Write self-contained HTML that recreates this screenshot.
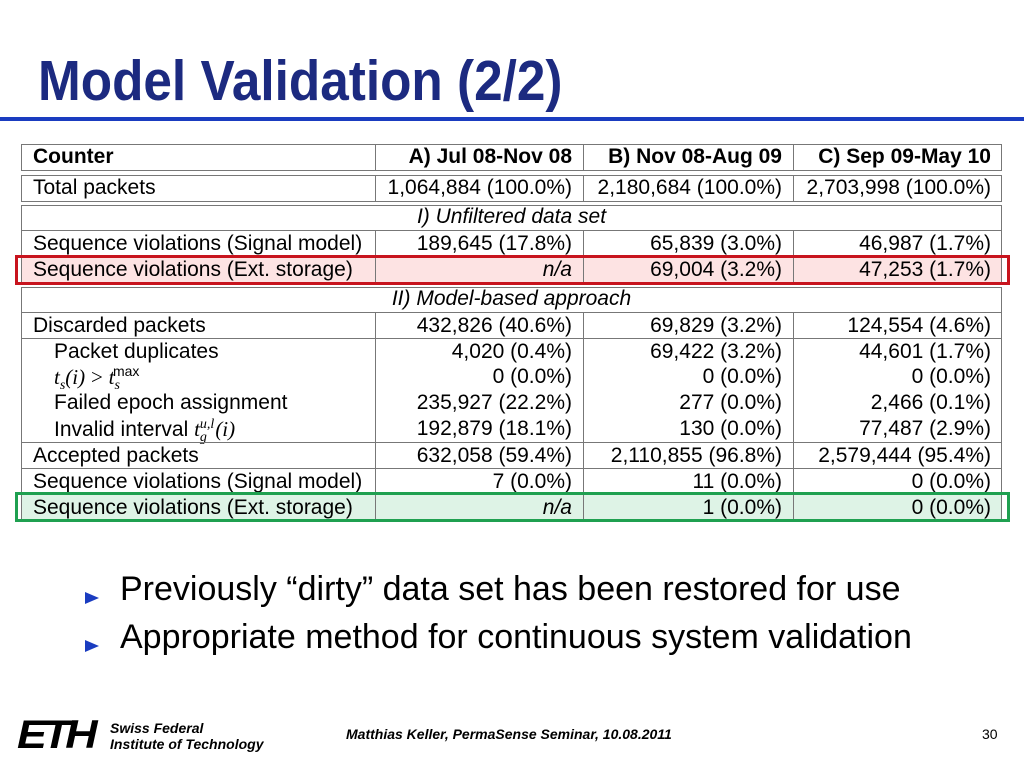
<!DOCTYPE html>
<html><head><meta charset="utf-8"><style>
body{margin:0;width:1024px;height:768px;background:#fff;position:relative;overflow:hidden;font-family:"Liberation Sans",sans-serif;color:#000}
.title{position:absolute;left:38px;top:48px;font-size:57px;font-weight:bold;color:#1c2a80;transform:scaleX(0.9);transform-origin:left;white-space:nowrap}
.rule{position:absolute;left:0;top:117px;width:1024px;height:4px;background:#1a3cc0}
.box{position:absolute;left:21px;width:981px;border:1px solid #777;box-sizing:border-box}
.row{position:absolute;left:21px;width:981px;height:26px;font-size:21px;line-height:26px}
.row div{position:absolute;top:0;height:100%;box-sizing:border-box;white-space:nowrap}
.c0{left:0;width:354px;padding-left:12px}
.c1{left:354px;width:208px;text-align:right;padding-right:11px;border-left:1px solid #777}
.c2{left:562px;width:210px;text-align:right;padding-right:11px;border-left:1px solid #777}
.c3{left:772px;width:209px;text-align:right;padding-right:11px;border-left:1px solid #777}
.sec{left:0;width:981px;text-align:center;font-style:italic}
.ind{padding-left:33px!important}
.b{font-weight:bold}
.m{font-family:"Liberation Serif",serif;font-style:italic}
.sm{font-size:14px;position:relative}
.hlr{position:absolute;left:15px;width:995px;height:30px;box-sizing:border-box;border:3px solid}
.bul{position:absolute;left:120px;font-size:34px;white-space:nowrap}
.tri{position:absolute;left:85px;width:0;height:0;border-top:6px solid transparent;border-bottom:6px solid transparent;border-left:14px solid #1a3cc0}
</style></head><body>
<div class="title">Model Validation (2/2)</div>
<div class="rule"></div>

<div style="position:absolute;left:21px;top:256px;width:981px;height:26px;background:#fde3e3"></div>
<div style="position:absolute;left:21px;top:494px;width:981px;height:26px;background:#def3e6"></div>

<div class="box" style="top:144px;height:27px"></div>
<div class="row b" style="top:144px"><div class="c0">Counter</div><div class="c1">A) Jul 08-Nov 08</div><div class="c2">B) Nov 08-Aug 09</div><div class="c3">C) Sep 09-May 10</div></div>

<div class="box" style="top:175px;height:27px"></div>
<div class="row" style="top:175px"><div class="c0">Total packets</div><div class="c1">1,064,884 (100.0%)</div><div class="c2">2,180,684 (100.0%)</div><div class="c3">2,703,998 (100.0%)</div></div>

<div class="box" style="top:205px;height:78px"></div>
<div class="row" style="top:204px"><div class="sec">I) Unfiltered data set</div></div>
<div class="row" style="top:230px;border-top:1px solid #777"><div class="c0">Sequence violations (Signal model)</div><div class="c1">189,645 (17.8%)</div><div class="c2">65,839 (3.0%)</div><div class="c3">46,987 (1.7%)</div></div>
<div class="row" style="top:256px;border-top:1px solid #777"><div class="c0">Sequence violations (Ext. storage)</div><div class="c1"><i>n/a</i></div><div class="c2">69,004 (3.2%)</div><div class="c3">47,253 (1.7%)</div></div>

<div class="box" style="top:287px;height:234px"></div>
<div class="row" style="top:286px"><div class="sec">II) Model-based approach</div></div>
<div class="row" style="top:312px;border-top:1px solid #777"><div class="c0">Discarded packets</div><div class="c1">432,826 (40.6%)</div><div class="c2">69,829 (3.2%)</div><div class="c3">124,554 (4.6%)</div></div>
<div class="row" style="top:338px;height:26px;border-top:1px solid #777"><div class="c0 ind">Packet duplicates</div><div class="c1">4,020 (0.4%)</div><div class="c2">69,422 (3.2%)</div><div class="c3">44,601 (1.7%)</div></div>
<div class="row" style="top:364px"><div class="c0 ind"><span class="m">t</span><span class="m sm" style="top:5px">s</span><span class="m">(i)</span> <span style="font-family:'Liberation Serif',serif">&gt;</span> <span class="m">t</span><span class="m sm" style="top:5px">s</span><span class="sm" style="top:-8px;left:-7px">max</span></div><div class="c1">0 (0.0%)</div><div class="c2">0 (0.0%)</div><div class="c3">0 (0.0%)</div></div>
<div class="row" style="top:390px"><div class="c0 ind">Failed epoch assignment</div><div class="c1">235,927 (22.2%)</div><div class="c2">277 (0.0%)</div><div class="c3">2,466 (0.1%)</div></div>
<div class="row" style="top:416px"><div class="c0 ind">Invalid interval <span class="m">t</span><span class="m sm" style="top:5px">g</span><span class="m sm" style="top:-8px;left:-7px">u,l</span><span class="m" style="margin-left:-6px">(i)</span></div><div class="c1">192,879 (18.1%)</div><div class="c2">130 (0.0%)</div><div class="c3">77,487 (2.9%)</div></div>
<div class="row" style="top:442px;border-top:1px solid #777"><div class="c0">Accepted packets</div><div class="c1">632,058 (59.4%)</div><div class="c2">2,110,855 (96.8%)</div><div class="c3">2,579,444 (95.4%)</div></div>
<div class="row" style="top:468px;border-top:1px solid #777"><div class="c0">Sequence violations (Signal model)</div><div class="c1">7 (0.0%)</div><div class="c2">11 (0.0%)</div><div class="c3">0 (0.0%)</div></div>
<div class="row" style="top:494px;border-top:1px solid #777"><div class="c0">Sequence violations (Ext. storage)</div><div class="c1"><i>n/a</i></div><div class="c2">1 (0.0%)</div><div class="c3">0 (0.0%)</div></div>

<div class="hlr" style="top:255px;border-color:#c8141e"></div>
<div class="hlr" style="top:492px;border-color:#1fa050"></div>

<div class="tri" style="top:592px"></div>
<div class="bul" style="top:570px">Previously “dirty” data set has been restored for use</div>
<div class="tri" style="top:640px"></div>
<div class="bul" style="top:618px">Appropriate method for continuous system validation</div>

<div style="position:absolute;left:17px;top:718px;font-size:40px;font-weight:900;font-style:italic;letter-spacing:-4px;line-height:34px;transform:scaleX(1.12);transform-origin:left">ETH</div>
<div style="position:absolute;left:110px;top:720px;font-size:14px;font-weight:bold;font-style:italic;line-height:16px">Swiss Federal<br>Institute of Technology</div>
<div style="position:absolute;left:346px;top:726px;font-size:14px;font-weight:bold;font-style:italic">Matthias Keller, PermaSense Seminar, 10.08.2011</div>
<div style="position:absolute;left:982px;top:726px;font-size:14px">30</div>
</body></html>
